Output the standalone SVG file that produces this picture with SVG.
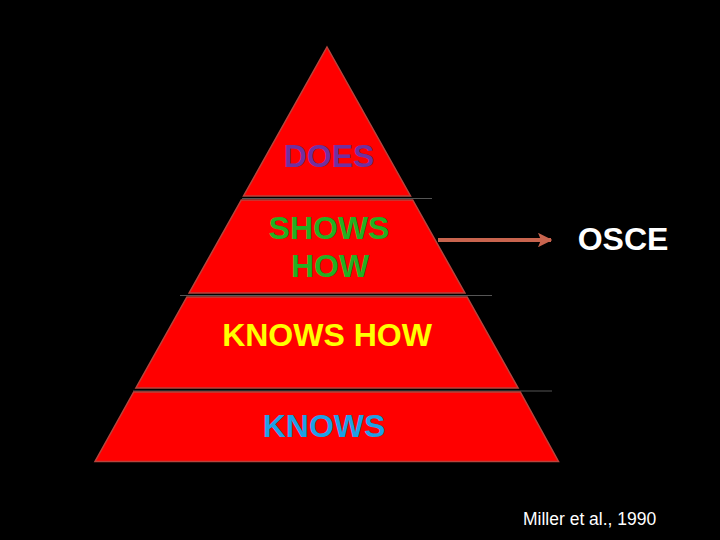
<svg xmlns="http://www.w3.org/2000/svg" width="720" height="540" viewBox="0 0 720 540">
<defs>
<style>
.tier{fill:#ff0000;stroke:#b8443c;stroke-width:1.5}
.lbl{font-family:"Liberation Sans",Arial,sans-serif;font-weight:bold;font-size:32px;text-anchor:middle}
.div{stroke:#555;stroke-width:1.2}
</style>
<marker id="ah" viewBox="0 0 10 10" refX="9" refY="5" markerWidth="3.6" markerHeight="3.6" orient="auto" markerUnits="strokeWidth">
<path d="M0,0 L10,5 L0,10 L2,5 Z" fill="#c8644e"/>
</marker>
</defs>
<rect width="720" height="540" fill="#000"/>
<g id="dividers">
<line class="div" x1="242" y1="198.5" x2="432" y2="198.5"/>
<line class="div" x1="180" y1="295.5" x2="492" y2="295.5"/>
<line class="div" x1="133" y1="391" x2="552" y2="391"/>
</g>
<g id="does">
<polygon class="tier" points="327,47 410.5,196 243.5,196"/>
<text class="lbl" x="329" y="167" fill="#7030a0">DOES</text>
</g>
<g id="showshow">
<polygon class="tier" points="241.3,200 412.7,200 464.9,293 189.1,293"/>
<text class="lbl" x="329" y="239" fill="#22b022">SHOWS</text>
<text class="lbl" x="330" y="277" fill="#22b022">HOW</text>
</g>
<g id="knowshow">
<polygon class="tier" points="186.9,297 467.1,297 518.1,388 135.9,388"/>
<text class="lbl" x="327" y="346" fill="#ffff00">KNOWS HOW</text>
</g>
<g id="knows">
<polygon class="tier" points="133.7,392 520.3,392 558.5,461.5 95,461.5"/>
<text class="lbl" x="324" y="437" fill="#1ea0e6">KNOWS</text>
</g>
<g id="connectors">
<line x1="438" y1="240" x2="551" y2="240" stroke="#c8644e" stroke-width="4" marker-end="url(#ah)"/>
</g>
<g id="osce">
<text class="lbl" x="623" y="250" fill="#fff">OSCE</text>
</g>
<g id="citation">
<text x="523" y="525" font-family="Liberation Sans,Arial,sans-serif" font-size="17.5" fill="#fff">Miller et al., 1990</text>
</g>
</svg>
